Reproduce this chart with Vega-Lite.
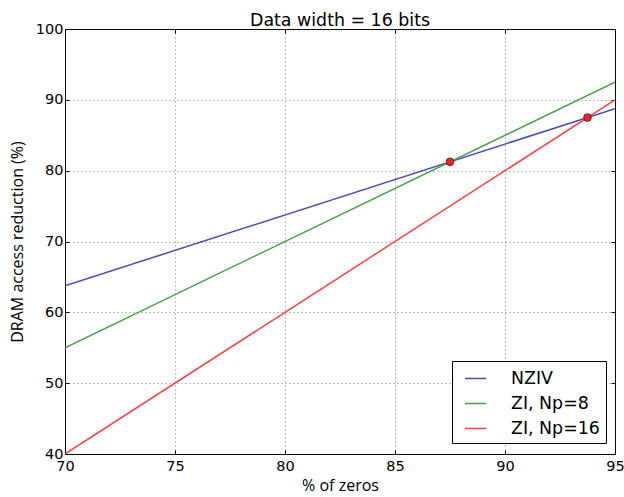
{
  "$schema": "https://vega.github.io/schema/vega-lite/v6.json",
  "width": 550,
  "height": 425,
  "autosize": {"type": "none"},
  "padding": {"left": 65, "top": 29, "right": 9, "bottom": 43},
  "background": "white",
  "title": {"text": "Data width = 16 bits", "font": "DejaVu Sans", "fontSize": 17.4, "fontWeight": "normal", "color": "#000", "offset": -8, "anchor": "middle"},
  "config": {
    "view": {"stroke": "#000", "strokeWidth": 1},
    "font": "DejaVu Sans",
    "axis": {"domain": false, "tickColor": "#000", "tickSize": -4, "tickWidth": 1, "labelFont": "DejaVu Sans", "labelFontSize": 14.5, "labelColor": "#000", "gridColor": "#333", "gridDash": [1, 3], "gridWidth": 0.8, "gridOpacity": 0.8, "titleFont": "Open Sans", "titleFontSize": 16, "titleFontWeight": "normal", "titleColor": "#000"}
  },
  "datasets": {
    "lines": [
      {"series": "NZIV", "zeros": 70, "reduction": 63.75},
      {"series": "NZIV", "zeros": 95, "reduction": 88.75},
      {"series": "ZI, Np=8", "zeros": 70, "reduction": 55},
      {"series": "ZI, Np=8", "zeros": 95, "reduction": 92.5},
      {"series": "ZI, Np=16", "zeros": 70, "reduction": 40},
      {"series": "ZI, Np=16", "zeros": 95, "reduction": 90}
    ],
    "points": [
      {"zeros": 87.5, "reduction": 81.25},
      {"zeros": 93.75, "reduction": 87.5}
    ]
  },
  "layer": [
    {
      "data": {"name": "lines"},
      "mark": {"type": "line", "strokeWidth": 1.5, "clip": true},
      "encoding": {
        "x": {"field": "zeros", "type": "quantitative", "scale": {"domain": [70, 95], "nice": false, "zero": false}, "axis": {"orient": "bottom", "title": "% of zeros", "values": [70, 75, 80, 85, 90, 95], "labelPadding": 9, "titlePadding": 5, "grid": true, "labelFlush": false}},
        "y": {"field": "reduction", "type": "quantitative", "scale": {"domain": [40, 100], "nice": false, "zero": false}, "axis": {"orient": "left", "title": "DRAM access reduction (%)", "values": [40, 50, 60, 70, 80, 90, 100], "labelPadding": 6, "titlePadding": 10, "grid": true, "labelFlush": false}},
        "color": {"field": "series", "type": "nominal", "sort": ["NZIV", "ZI, Np=8", "ZI, Np=16"],
          "scale": {"domain": ["NZIV", "ZI, Np=8", "ZI, Np=16"], "range": ["#4a4ab4", "#4c9e4c", "#f04444"]},
          "legend": {"title": null, "orient": "none", "legendX": 387, "legendY": 332, "direction": "vertical", "strokeColor": "#000", "fillColor": "#fff", "padding": 6, "symbolType": "stroke", "symbolSize": 441, "symbolOffset": 6, "symbolStrokeWidth": 1.5, "labelFont": "DejaVu Sans", "labelFontSize": 17.4, "labelColor": "#000", "labelOffset": 24, "rowPadding": 5, "labelLimit": 300}
        }
      }
    },
    {
      "data": {"name": "points"},
      "mark": {"type": "point", "filled": true, "fill": "#e8282c", "stroke": "#5a1010", "strokeWidth": 0.8, "size": 60, "opacity": 1},
      "encoding": {
        "x": {"field": "zeros", "type": "quantitative", "axis": null},
        "y": {"field": "reduction", "type": "quantitative", "axis": null}
      }
    },
    {
      "data": {"name": "points"},
      "mark": {"type": "point", "opacity": 0},
      "encoding": {
        "x": {"field": "zeros", "type": "quantitative", "axis": {"orient": "top", "title": null, "labels": false, "grid": false, "values": [70, 75, 80, 85, 90, 95]}},
        "y": {"field": "reduction", "type": "quantitative", "axis": {"orient": "right", "title": null, "labels": false, "grid": false, "values": [40, 50, 60, 70, 80, 90, 100]}}
      }
    }
  ],
  "resolve": {"axis": {"x": "independent", "y": "independent"}}
}
